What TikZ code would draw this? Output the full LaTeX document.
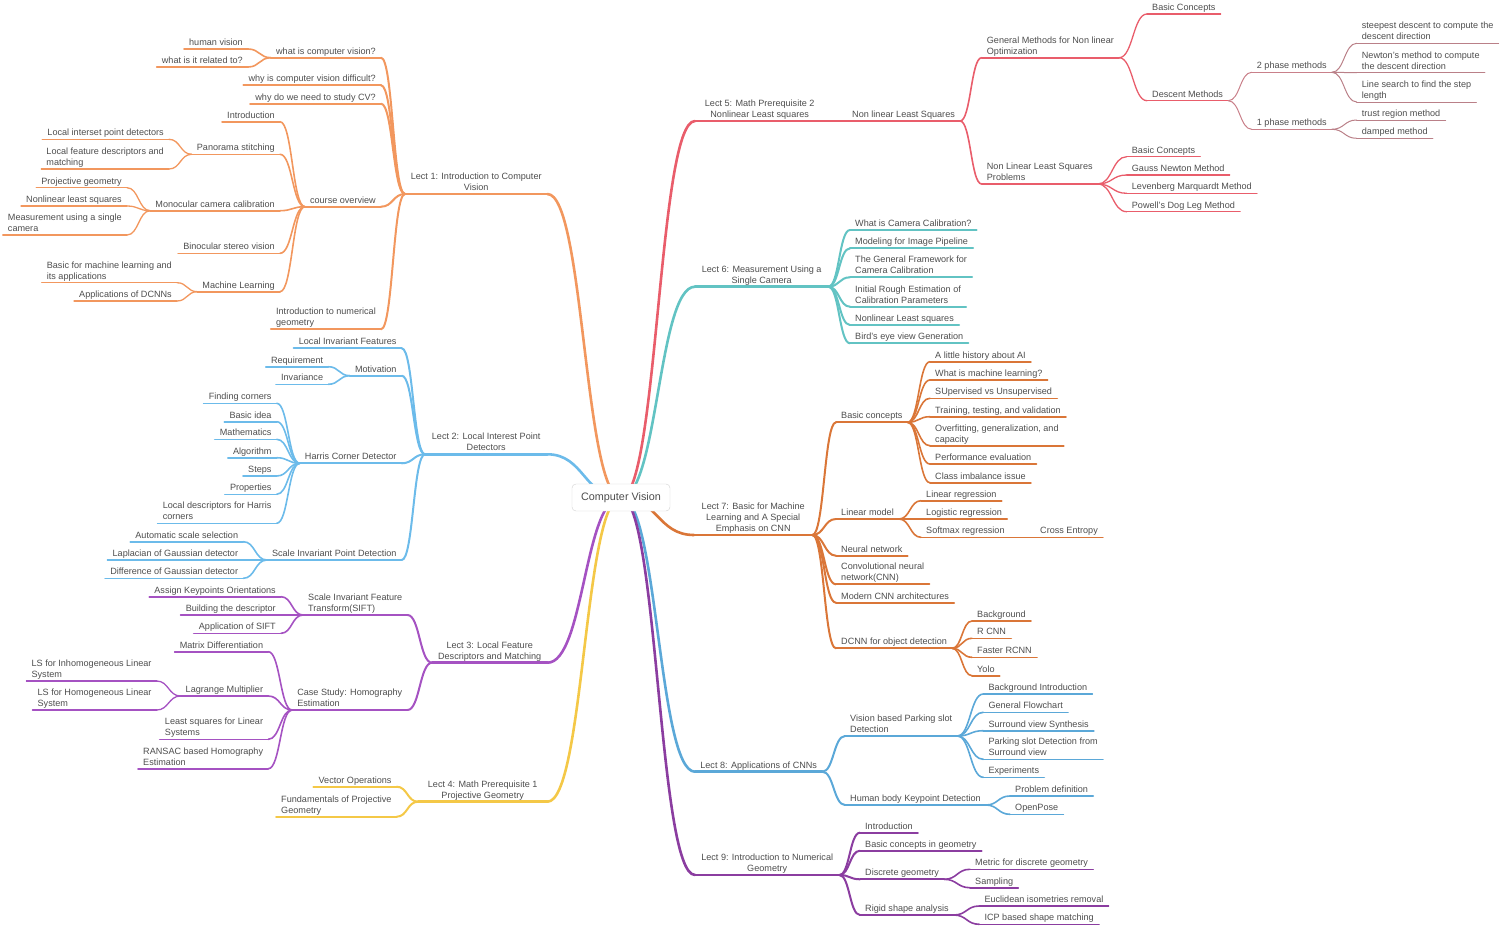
\documentclass[tikz,border=0pt]{standalone}
\usepackage{fontspec}
\setmainfont{Liberation Sans}
\usepackage{xcolor}
\usetikzlibrary{calc,backgrounds}

\definecolor{txt}{HTML}{4D4D4D}
\definecolor{cA}{HTML}{F2975E}  % lect 1
\definecolor{cB}{HTML}{6CBBEA}  % lect 2
\definecolor{cC}{HTML}{A552C2}  % lect 3
\definecolor{cD}{HTML}{F4C847}  % lect 4
\definecolor{cE}{HTML}{E95D6B}  % lect 5
\definecolor{cEd}{HTML}{C9808A}
\definecolor{cF}{HTML}{62C3C3}  % lect 6
\definecolor{cG}{HTML}{DA7638}  % lect 7
\definecolor{cH}{HTML}{5BA8D8}  % lect 8
\definecolor{cI}{HTML}{8B3DA0}  % lect 9

\begin{document}
\begin{tikzpicture}[
  x=1pt, y=-1pt,
  topic/.style={font=\fontsize{9.1}{11}\selectfont, text=txt, align=left,
                inner xsep=5pt, inner ysep=0pt, execute at end node=\strut},
  lt/.style={topic, anchor=south east},
  rt/.style={topic, anchor=south west},
  lect/.style={topic, align=center, anchor=south west},
  root/.style={rounded corners=4pt, draw=gray!35, fill=white, text=txt,
               font=\fontsize{10.8}{13}\selectfont,
               minimum width=98pt, minimum height=27pt},
  u1/.style={append after command={(\tikzlastnode.south west) edge[draw=#1, line width=2.6pt, line cap=round] (\tikzlastnode.south east)}},
  u2/.style={append after command={(\tikzlastnode.south west) edge[draw=#1, line width=2pt, line cap=round] (\tikzlastnode.south east)}},
  u3/.style={append after command={(\tikzlastnode.south west) edge[draw=#1, line width=1.6pt, line cap=round] (\tikzlastnode.south east)}},
  u4/.style={append after command={(\tikzlastnode.south west) edge[draw=#1, line width=1.3pt, line cap=round] (\tikzlastnode.south east)}},
  u5/.style={append after command={(\tikzlastnode.south west) edge[draw=#1, line width=1pt, line cap=round] (\tikzlastnode.south east)}},
  w1/.style={line width=2.6pt, line cap=round},
  w2/.style={line width=2pt, line cap=round},
  w3/.style={line width=1.6pt, line cap=round},
  w4/.style={line width=1.3pt, line cap=round},
  w5/.style={line width=1pt, line cap=round},
  mlink/.style={to path={.. controls ($(\tikztostart)!0.5!(\tikztotarget|-\tikztostart)$)
                 and ($(\tikztotarget)!0.5!(\tikztostart|-\tikztotarget)$) .. (\tikztotarget)}}
]
  \useasboundingbox (0,0) rectangle (1500,927);

  % root
  \node[root] (cv) at (621,497.5) {Computer Vision};

  % lectures
  \node[lect, u1=cA, minimum width=142pt] (l1) at (405,194) {Lect 1: Introduction to Computer\\Vision};
  \node[lect, u1=cB, minimum width=122pt] (l2) at (425,454.3) {Lect 2: Local Interest Point\\Detectors};
  \node[lect, u1=cC, minimum width=115pt] (l3) at (432,662.7) {Lect 3: Local Feature\\Descriptors and Matching};
  \node[lect, u1=cD, minimum width=129pt] (l4) at (418,801.7) {Lect 4: Math Prerequisite 1\\Projective Geometry};
  \node[lect, u1=cE, minimum width=129pt] (l5) at (695,121) {Lect 5: Math Prerequisite 2\\Nonlinear Least squares};
  \node[lect, u1=cF, minimum width=133pt] (l6) at (695,286.7) {Lect 6: Measurement Using a\\Single Camera};
  \node[lect, u1=cG, minimum width=118pt] (l7) at (694,535) {Lect 7: Basic for Machine\\Learning and A Special\\Emphasis on CNN};
  \node[lect, u1=cH, minimum width=127pt] (l8) at (695,771.7) {Lect 8: Applications of CNNs};
  \node[lect, u1=cI, minimum width=144pt] (l9) at (695,875) {Lect 9: Introduction to Numerical\\Geometry};

  \begin{scope}[on background layer]
    \foreach \m/\c in {l1/cA,l2/cB,l3/cC,l4/cD}
      \draw[w1, \c] (cv.center) to[mlink] (\m.south east);
    \foreach \m/\c in {l5/cE,l6/cF,l7/cG,l8/cH,l9/cI}
      \draw[w1, \c] (cv.center) to[mlink] (\m.south west);
  \end{scope}

  % Lect 1
  \foreach \n/\y/\t in {wcv/57.7/what is computer vision?, wdiff/85.3/why is computer vision difficult?,
      wstudy/103.7/why do we need to study CV?, cover/206.7/course overview,
      numgeo/329.3/{Introduction to numerical\\geometry}}{
    \node[lt, u2=cA] (\n) at (381,\y) {\t};
    \draw[w2, cA] (\n.south east) to[mlink] (l1.south west);
  }
  \foreach \n/\y/\t in {hv/49/human vision, wrt/67/what is it related to?}{
    \node[lt, u3=cA] (\n) at (248,\y) {\t};
    \draw[w3, cA] (\n.south east) to[mlink] (wcv.south west);
  }
  \foreach \n/\y/\t in {intro1/121.7/Introduction, pano/154.3/Panorama stitching,
      mono/210.7/Monocular camera calibration, bino/253.3/Binocular stereo vision,
      ml1/291.7/Machine Learning}{
    \node[lt, u3=cA] (\n) at (280,\y) {\t};
    \draw[w3, cA] (\n.south east) to[mlink] (cover.south west);
  }
  \foreach \n/\y/\t in {lipd/139.3/Local interset point detectors,
      lfdm/169/{Local feature descriptors and\\matching}}{
    \node[lt, u4=cA] (\n) at (169,\y) {\t};
    \draw[w4, cA] (\n.south east) to[mlink] (pano.south west);
  }
  \foreach \n/\y/\t in {projg/187.7/Projective geometry, nlsq1/206/Nonlinear least squares,
      musc/235/{Measurement using a single\\camera}}{
    \node[lt, u4=cA] (\n) at (127,\y) {\t};
    \draw[w4, cA] (\n.south east) to[mlink] (mono.south west);
  }
  \foreach \n/\y/\t in {bml/282.7/{Basic for machine learning and\\its applications},
      adcnn/301/Applications of DCNNs}{
    \node[lt, u4=cA] (\n) at (177,\y) {\t};
    \draw[w4, cA] (\n.south east) to[mlink] (ml1.south west);
  }

  % Lect 2
  \foreach \n/\y/\t in {lif/348.3/Local Invariant Features, motiv/375.7/Motivation,
      harris/463.3/Harris Corner Detector, sipd/560/Scale Invariant Point Detection}{
    \node[lt, u2=cB] (\n) at (401.7,\y) {\t};
    \draw[w2, cB] (\n.south east) to[mlink] (l2.south west);
  }
  \foreach \n/\y/\t in {req/366.7/Requirement, inv/384.3/Invariance}{
    \node[lt, u3=cB] (\n) at (328.3,\y) {\t};
    \draw[w3, cB] (\n.south east) to[mlink] (motiv.south west);
  }
  \foreach \n/\y/\t in {fc/403.3/Finding corners, bidea/421.7/Basic idea, maths/439.3/Mathematics,
      algo/457.7/Algorithm, steps/476/Steps, props/494.3/Properties,
      ldh/523.3/{Local descriptors for Harris\\corners}}{
    \node[lt, u3=cB] (\n) at (276.7,\y) {\t};
    \draw[w3, cB] (\n.south east) to[mlink] (harris.south west);
  }
  \foreach \n/\y/\t in {ass/541.7/Automatic scale selection, lapg/560/Laplacian of Gaussian detector,
      dog/578.3/Difference of Gaussian detector}{
    \node[lt, u3=cB] (\n) at (243.3,\y) {\t};
    \draw[w3, cB] (\n.south east) to[mlink] (sipd.south west);
  }

  % Lect 3
  \foreach \n/\y/\t in {sift/615/{Scale Invariant Feature\\Transform(SIFT)},
      homo/710/{Case Study: Homography\\Estimation}}{
    \node[lt, u2=cC] (\n) at (407.5,\y) {\t};
    \draw[w2, cC] (\n.south east) to[mlink] (l3.south west);
  }
  \foreach \n/\y/\t in {akpo/596.7/Assign Keypoints Orientations, bdesc/615/Building the descriptor,
      asift/633.3/Application of SIFT}{
    \node[lt, u3=cC] (\n) at (281,\y) {\t};
    \draw[w3, cC] (\n.south east) to[mlink] (sift.south west);
  }
  \foreach \n/\y/\t in {mdiff/651.7/Matrix Differentiation, lagr/696/Lagrange Multiplier,
      lsls/739.3/{Least squares for Linear\\Systems}, ransac/768.7/{RANSAC based Homography\\Estimation}}{
    \node[lt, u3=cC] (\n) at (268.3,\y) {\t};
    \draw[w3, cC] (\n.south east) to[mlink] (homo.south west);
  }
  \foreach \n/\y/\t in {lsinh/681/{LS for Inhomogeneous Linear\\System},
      lshom/710/{LS for Homogeneous Linear\\System}}{
    \node[lt, u4=cC] (\n) at (156.7,\y) {\t};
    \draw[w4, cC] (\n.south east) to[mlink] (lagr.south west);
  }

  % Lect 4
  \foreach \n/\y/\t in {vecop/786.7/Vector Operations, fpg/816.7/{Fundamentals of Projective\\Geometry}}{
    \node[lt, u2=cD] (\n) at (396.7,\y) {\t};
    \draw[w2, cD] (\n.south east) to[mlink] (l4.south west);
  }

  % Lect 5
  \node[rt, u2=cE] (nlls) at (847,121) {Non linear Least Squares};
  \draw[w2, cE] (l5.south east) to[mlink] (nlls.south west);
  \foreach \n/\y/\t in {gmno/57.7/{General Methods for Non linear\\Optimization},
      nllsp/184/{Non Linear Least Squares\\Problems}}{
    \node[rt, u3=cE] (\n) at (981.7,\y) {\t};
    \draw[w3, cE] (nlls.south east) to[mlink] (\n.south west);
  }
  \foreach \n/\y/\t in {bcon1/14/Basic Concepts, desc/100.7/Descent Methods}{
    \node[rt, u4=cE] (\n) at (1147,\y) {\t};
    \draw[w4, cE] (gmno.south east) to[mlink] (\n.south west);
  }
  \foreach \n/\y/\t in {ph2/72.3/2 phase methods, ph1/129.3/1 phase methods}{
    \node[rt, u5=cEd] (\n) at (1251.7,\y) {\t};
    \draw[w5, cEd] (desc.south east) to[mlink] (\n.south west);
  }
  \foreach \n/\y/\t in {sdd/43.3/{steepest descent to compute the\\descent direction},
      nmd/72.7/{Newton's method to compute\\the descent direction},
      lsstep/102/{Line search to find the step\\length}}{
    \node[rt, u5=cEd!80!gray] (\n) at (1356.7,\y) {\t};
    \draw[w5, cEd!80!gray] (ph2.south east) to[mlink] (\n.south west);
  }
  \foreach \n/\y/\t in {trm/120/trust region method, dmp/138.3/damped method}{
    \node[rt, u5=cEd!80!gray] (\n) at (1356.7,\y) {\t};
    \draw[w5, cEd!80!gray] (ph1.south east) to[mlink] (\n.south west);
  }
  \foreach \n/\y/\t in {bcon2/156.7/Basic Concepts, gnm/175/Gauss Newton Method,
      lmm/193.3/Levenberg Marquardt Method, pdl/211.7/Powell's Dog Leg Method}{
    \node[rt, u4=cE] (\n) at (1126.7,\y) {\t};
    \draw[w4, cE] (nllsp.south east) to[mlink] (\n.south west);
  }

  % Lect 6
  \foreach \n/\y/\t in {wcc/230/What is Camera Calibration?, mip/248.3/Modeling for Image Pipeline,
      gfcc/277.3/{The General Framework for\\Camera Calibration},
      ires/306.7/{Initial Rough Estimation of\\Calibration Parameters},
      nlsq2/325/Nonlinear Least squares, bev/343.3/Bird's eye view Generation}{
    \node[rt, u2=cF] (\n) at (850,\y) {\t};
    \draw[w2, cF] (l6.south east) to[mlink] (\n.south west);
  }

  % Lect 7
  \foreach \n/\y/\t in {bconc/422.3/Basic concepts, linm/519/Linear model, nn/555.7/Neural network,
      cnn/584.3/{Convolutional neural\\network(CNN)}, mcnn/602.7/Modern CNN architectures,
      dcnn/648.3/DCNN for object detection}{
    \node[rt, u2=cG] (\n) at (836,\y) {\t};
    \draw[w2, cG] (l7.south east) to[mlink] (\n.south west);
  }
  \foreach \n/\y/\t in {hai/361.7/A little history about AI, wml/380/What is machine learning?,
      svu/398.3/SUpervised vs Unsupervised, ttv/416.7/{Training, testing, and validation},
      ogc/445.7/{Overfitting, generalization, and\\capacity}, pe/464/Performance evaluation,
      cii/482.7/Class imbalance issue}{
    \node[rt, u3=cG] (\n) at (930,\y) {\t};
    \draw[w3, cG] (bconc.south east) to[mlink] (\n.south west);
  }
  \foreach \n/\y/\t in {lr/500.7/Linear regression, logr/519/Logistic regression,
      smr/537.3/Softmax regression}{
    \node[rt, u3=cG] (\n) at (921,\y) {\t};
    \draw[w3, cG] (linm.south east) to[mlink] (\n.south west);
  }
  \node[rt, u4=cG] (ce) at (1035,537.3) {Cross Entropy};
  \draw[w4, cG] (smr.south east) to[mlink] (ce.south west);
  \foreach \n/\y/\t in {bg/621/Background, rcnn/638.3/R CNN, frcnn/657.3/Faster RCNN, yolo/675.7/Yolo}{
    \node[rt, u3=cG] (\n) at (972,\y) {\t};
    \draw[w3, cG] (dcnn.south east) to[mlink] (\n.south west);
  }

  % Lect 8
  \foreach \n/\y/\t in {vpsd/736/{Vision based Parking slot\\Detection},
      hbkd/805/Human body Keypoint Detection}{
    \node[rt, u2=cH] (\n) at (845,\y) {\t};
    \draw[w2, cH] (l8.south east) to[mlink] (\n.south west);
  }
  \foreach \n/\y/\t in {bgi/694/Background Introduction, gfc/712.3/General Flowchart,
      svs/730.7/Surround view Synthesis, psd/759.3/{Parking slot Detection from\\Surround view},
      exps/777.3/Experiments}{
    \node[rt, u3=cH] (\n) at (983.3,\y) {\t};
    \draw[w3, cH] (vpsd.south east) to[mlink] (\n.south west);
  }
  \foreach \n/\y/\t in {pdef/796/Problem definition, opose/814.3/OpenPose}{
    \node[rt, u3=cH] (\n) at (1010,\y) {\t};
    \draw[w3, cH] (hbkd.south east) to[mlink] (\n.south west);
  }

  % Lect 9
  \foreach \n/\y/\t in {intro9/832.7/Introduction, bcg/850.7/Basic concepts in geometry,
      dgeo/879.3/Discrete geometry, rsa/915/Rigid shape analysis}{
    \node[rt, u2=cI] (\n) at (860,\y) {\t};
    \draw[w2, cI] (l9.south east) to[mlink] (\n.south west);
  }
  \foreach \n/\y/\t in {mdg/869.3/Metric for discrete geometry, samp/887.7/Sampling}{
    \node[rt, u3=cI] (\n) at (970,\y) {\t};
    \draw[w3, cI] (dgeo.south east) to[mlink] (\n.south west);
  }
  \foreach \n/\y/\t in {eir/906/Euclidean isometries removal, icp/924.3/ICP based shape matching}{
    \node[rt, u3=cI] (\n) at (979.3,\y) {\t};
    \draw[w3, cI] (rsa.south east) to[mlink] (\n.south west);
  }
\end{tikzpicture}
\end{document}
